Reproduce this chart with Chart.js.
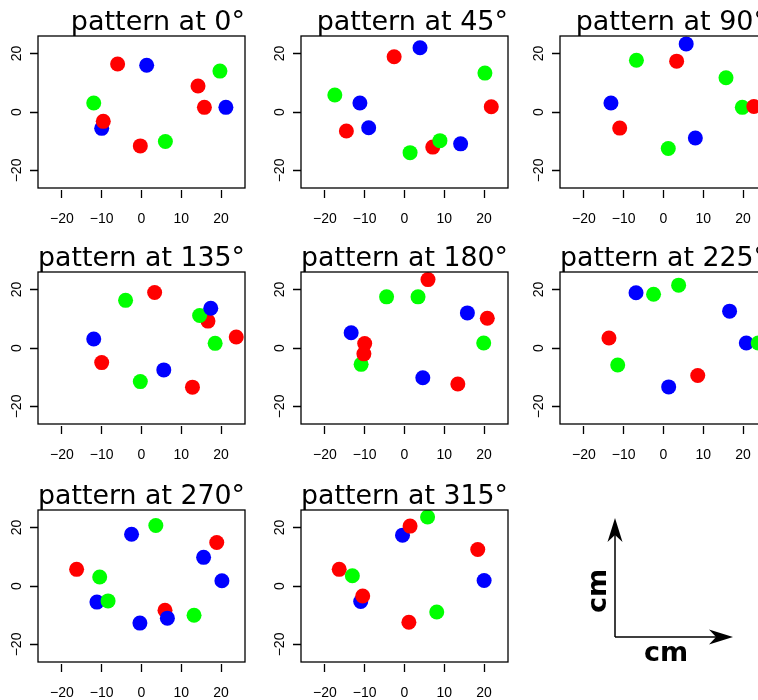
<!DOCTYPE html>
<html>
<head>
<meta charset="utf-8">
<script src="https://cdn.jsdelivr.net/npm/chart.js@4.4.0/dist/chart.umd.min.js"></script>
<style>
html, body { margin: 0; padding: 0; background: #fff; overflow: hidden; width: 758px; height: 700px; }
canvas { position: absolute; }
</style>
</head>
<body>
<script>
// rotation angle of each panel
const angles = [0, 45, 90, 135, 180, 225, 270, 315];
const xTicks = [-20, -10, 0, 10, 20];
const yTicks = [-20, 0, 20];

// point positions (cm), one inner array per panel
const redX = [
  [-6.0, 14.2, 15.8, -9.6, -0.3],
  [-2.6, 21.8, -14.6, 7.1],
  [3.3, 22.7, -11.0],
  [3.3, 16.7, 23.8, -10.0, 12.8],
  [5.9, 20.8, -10.0, -10.2, 13.4],
  [-13.7, 8.6],
  [18.9, -16.3, 5.9],
  [1.4, 18.4, -16.4, -10.5, 1.1]
];
const redY = [
  [16.4, 8.9, 1.6, -3.2, -11.6],
  [18.9, 1.8, -6.5, -12.0],
  [17.4, 1.9, -5.5],
  [19.0, 9.2, 3.75, -5.0, -13.4],
  [23.4, 10.2, 1.5, -2.0, -12.3],
  [3.4, -9.4],
  [14.9, 5.7, -8.3],
  [20.5, 12.5, 5.7, -3.4, -12.4]
];
const greenX = [
  [19.7, -12.0, 6.0],
  [20.2, -17.5, 8.9, 1.4],
  [-6.8, 15.7, 19.8, 1.2],
  [-4.0, 14.6, 18.5, -0.3],
  [-4.5, 3.4, 19.9, -10.9],
  [3.8, -2.5, 23.8, -11.5],
  [3.6, -10.5, -8.4, 13.2],
  [5.8, -13.1, 8.1]
];
const greenY = [
  [14.0, 3.1, -10.1],
  [13.3, 5.8, -9.8, -13.9],
  [17.7, 11.7, 1.6, -12.5],
  [16.3, 11.1, 1.6, -11.5],
  [17.5, 17.5, 1.7, -5.6],
  [21.5, 18.4, 1.7, -5.8],
  [20.7, 3.1, -5.1, -10.0],
  [23.6, 3.5, -8.9]
];
const blueX = [
  [1.3, 21.2, -10.0],
  [3.9, -11.2, -9.0, 14.1],
  [5.7, -13.2, 8.0],
  [17.4, -12.0, 5.6],
  [15.8, -13.4, 4.6],
  [-6.9, 16.6, 20.8, 1.3],
  [-2.5, 15.6, 20.2, -11.2, 6.5, -0.4],
  [-0.5, 20.0, -11.0]
];
const blueY = [
  [16.0, 1.6, -5.6],
  [22.0, 3.1, -5.4, -10.9],
  [23.3, 3.1, -8.9],
  [13.6, 3.1, -7.5],
  [12.0, 5.2, -10.2],
  [18.9, 12.6, 1.7, -13.3],
  [17.7, 9.8, 1.8, -5.5, -11.0, -12.7],
  [17.4, 1.9, -5.3]
];

// which colour lies on top (first = top-most)
const stacking = [
  ['green', 'red', 'blue'],
  ['green', 'red', 'blue'],
  ['red', 'green', 'blue'],
  ['blue', 'green', 'red'],
  ['red', 'green', 'blue'],
  ['green', 'blue', 'red'],
  ['green', 'blue', 'red'],
  ['green', 'red', 'blue']
];

const colours = { red: '#ff0000', green: '#00ff00', blue: '#0000ff' };
const xs = { red: redX, green: greenX, blue: blueX };
const ys = { red: redY, green: greenY, blue: blueY };

const colLeft = [0, 263, 522];
const rowTop = [0, 236, 474];

function fmt(v) {
  return v < 0 ? '\u2212' + Math.abs(v) : String(v);
}

// frame around the plot region + rotated y labels (R style)
const framePlugin = {
  id: 'frame',
  afterDraw(chart) {
    const a = chart.chartArea;
    const ctx = chart.ctx;
    ctx.save();
    ctx.strokeStyle = '#000';
    ctx.lineWidth = 1.3;
    ctx.strokeRect(a.left, a.top, a.right - a.left, a.bottom - a.top);
    const sy = chart.scales.y;
    ctx.fillStyle = '#000';
    ctx.font = '14px "Liberation Sans"';
    ctx.textAlign = 'center';
    ctx.textBaseline = 'middle';
    yTicks.forEach(v => {
      ctx.save();
      ctx.translate(a.left - 21, sy.getPixelForValue(v));
      ctx.rotate(-Math.PI / 2);
      ctx.fillText(fmt(v), 0, 0);
      ctx.restore();
    });
    ctx.restore();
  }
};

function makeCanvas(left, top, w, h) {
  const c = document.createElement('canvas');
  c.width = w;
  c.height = h;
  c.style.left = left + 'px';
  c.style.top = top + 'px';
  document.body.appendChild(c);
  return c;
}

const tickGrid = {
  drawOnChartArea: false,
  drawTicks: true,
  tickLength: 10,
  tickColor: '#000',
  tickWidth: 1.3,
  tickBorderDash: [0, 2, 8, 10]
};

angles.forEach((ang, i) => {
  const c = makeCanvas(colLeft[i % 3], rowTop[Math.floor(i / 3)], 260, 233);
  const datasets = stacking[i].map(col => ({
    label: col,
    data: xs[col][i].map((x, k) => ({ x: x, y: ys[col][i][k] })),
    backgroundColor: colours[col],
    borderWidth: 0,
    pointRadius: 7.5,
    pointHoverRadius: 7.5
  }));
  new Chart(c, {
    type: 'scatter',
    data: { datasets },
    options: {
      responsive: false,
      animation: false,
      events: [],
      layout: { padding: { left: 0, right: 15, top: 0, bottom: 0 } },
      scales: {
        x: {
          type: 'linear', min: -26, max: 26,
          afterBuildTicks: s => { s.ticks = xTicks.map(v => ({ value: v })); },
          afterFit: s => { s.height = 45; },
          border: { display: false },
          grid: tickGrid,
          ticks: {
            color: '#000', autoSkip: false, maxRotation: 0, padding: 13,
            font: { family: 'Liberation Sans', size: 14 },
            callback: v => fmt(v)
          }
        },
        y: {
          type: 'linear', min: -26, max: 26,
          afterBuildTicks: s => { s.ticks = yTicks.map(v => ({ value: v })); },
          afterFit: s => { s.width = 38; },
          border: { display: false },
          grid: tickGrid,
          ticks: { display: false }
        }
      },
      plugins: {
        legend: { display: false },
        tooltip: { enabled: false },
        title: {
          display: true,
          text: 'pattern at ' + ang + '\u00b0',
          align: 'end',
          fullSize: false,
          color: '#000',
          font: { family: 'DejaVu Sans', size: 27, weight: 'normal', lineHeight: 1.0 },
          padding: { top: 9, bottom: 0 }
        }
      }
    },
    plugins: [framePlugin]
  });
});

// the cm / cm orientation key in the last cell
function arrowHead(ctx, x, y, angle) {
  ctx.save();
  ctx.translate(x, y);
  ctx.rotate(angle);
  ctx.beginPath();
  ctx.moveTo(0, 0);
  ctx.lineTo(-24, 7.5);
  ctx.lineTo(-17, 0);
  ctx.lineTo(-24, -7.5);
  ctx.closePath();
  ctx.fill();
  ctx.restore();
}

const keyPlugin = {
  id: 'cmKey',
  afterDraw(chart) {
    const ctx = chart.ctx;
    const ox = 93, oy = 163;
    ctx.save();
    ctx.strokeStyle = '#000';
    ctx.fillStyle = '#000';
    ctx.lineWidth = 1.5;
    ctx.beginPath();
    ctx.moveTo(ox, oy);
    ctx.lineTo(ox, 50);
    ctx.moveTo(ox, oy);
    ctx.lineTo(205, oy);
    ctx.stroke();
    arrowHead(ctx, ox, 44, -Math.PI / 2);
    arrowHead(ctx, 211, oy, 0);
    ctx.font = 'bold 27px "DejaVu Sans"';
    ctx.textAlign = 'center';
    ctx.textBaseline = 'middle';
    ctx.fillText('cm', 144, 180);
    ctx.save();
    ctx.translate(77, 117);
    ctx.rotate(-Math.PI / 2);
    ctx.fillText('cm', 0, 0);
    ctx.restore();
    ctx.restore();
  }
};

new Chart(makeCanvas(522, 474, 236, 226), {
  type: 'scatter',
  data: { datasets: [] },
  options: {
    responsive: false,
    animation: false,
    events: [],
    scales: { x: { display: false }, y: { display: false } },
    plugins: { legend: { display: false }, tooltip: { enabled: false } }
  },
  plugins: [keyPlugin]
});
</script>
</body>
</html>
